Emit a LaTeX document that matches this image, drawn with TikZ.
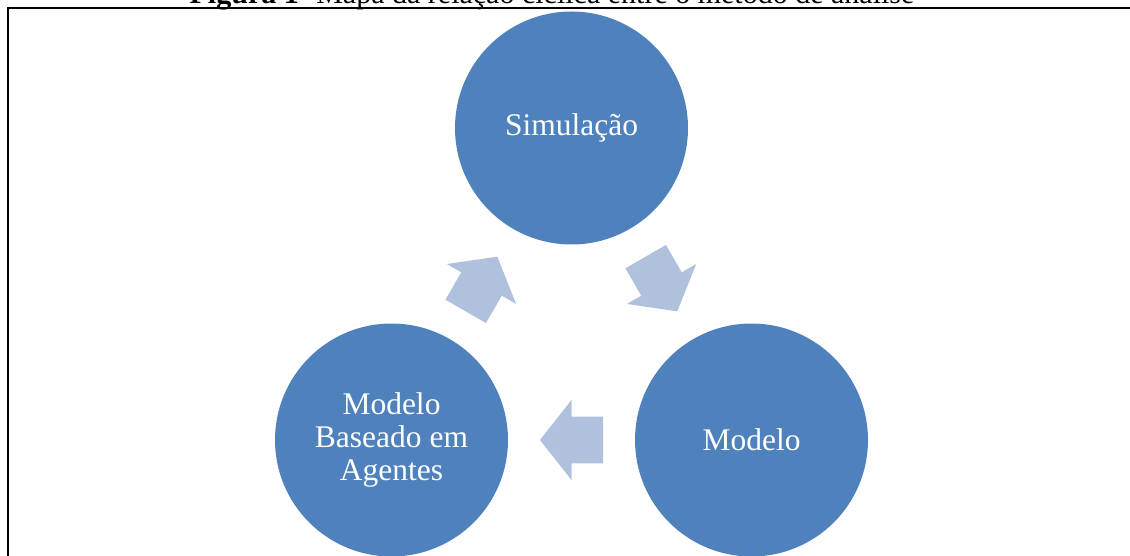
\documentclass[tikz,border=0pt]{standalone}
\usepackage{fontspec}
\setmainfont{Liberation Serif}
\usetikzlibrary{calc}

\definecolor{cyclefill}{HTML}{4F81BD}
\definecolor{arrowfill}{HTML}{B0C1DD}

\tikzset{
  stagecircle/.style={circle, fill=cyclefill, draw=none, minimum size=233pt,
    inner sep=0pt, text=white, align=center,
    font=\fontsize{31.5}{33}\selectfont},
  frameline/.style={line width=2pt, black},
  pics/cyclearrow/.style={code={
    \fill[arrowfill] (-31.6,-23.4) -- (0,-23.4) -- (0,-40) -- (31.6,0)
      -- (0,40) -- (0,23.4) -- (-31.6,23.4) -- cycle;
  }}
}

\begin{document}
\begin{tikzpicture}[x=1pt, y=1pt]
  \useasboundingbox (0,0) rectangle (1130,555);

  % caption line, cut by the top of the page
  \node[anchor=base, inner sep=0pt, font=\fontsize{30}{36}\selectfont] (caption)
    at (552,551) {\textbf{Figura 1-} Mapa da relação cíclica entre o método de análise};

  % frame around the figure
  \coordinate (frameBL) at (8,-5);
  \coordinate (frameTL) at (8,546.7);
  \coordinate (frameTR) at (1135,546.7);
  \draw[frameline] (frameBL) -- (frameTL) -- (frameTR);

  % the three stages of the cycle
  \node[stagecircle] (sim) at (571.5,427) {Simulação};
  \node[stagecircle] (mod) at (751.5,115) {Modelo};
  \node[stagecircle] (mba) at (391.5,115) {Modelo\\Baseado em\\Agentes};

  % block arrows between the stages
  \pic[rotate=-60] at ($(sim)!0.5!(mod)$) {cyclearrow};
  \pic[rotate=180] at ($(mod)!0.5!(mba)$) {cyclearrow};
  \pic[rotate=60]  at ($(mba)!0.5!(sim)$) {cyclearrow};
\end{tikzpicture}
\end{document}
